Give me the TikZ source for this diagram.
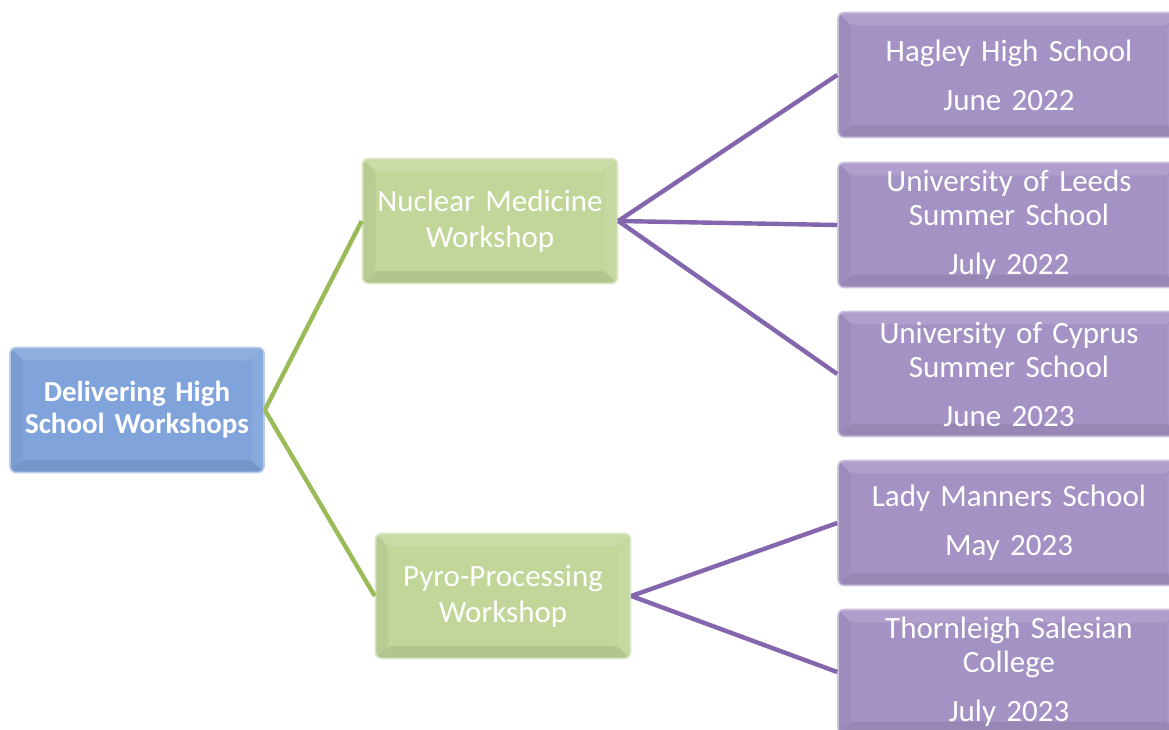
\documentclass[tikz,border=0pt]{standalone}
\usepackage{fontspec}
\setmainfont{Carlito}[WordSpace=0.85]
\definecolor{rootfill}{HTML}{7FA3DA}
\definecolor{greenfill}{HTML}{C2D69A}
\definecolor{purplefill}{HTML}{A592C5}
\definecolor{greenline}{HTML}{9BBB59}
\definecolor{purpleline}{HTML}{8466AE}
\tikzset{
  bevelbox/.style={rounded corners=6pt, inner sep=0pt, text=white, align=center,
    fill=#1, draw=#1!55!white, line width=1.6pt,
    path picture={
      \fill[#1!88!white] (path picture bounding box.north west) -- (path picture bounding box.north east)
        -- ([xshift=-13pt,yshift=-13pt]path picture bounding box.north east)
        -- ([xshift=13pt,yshift=-13pt]path picture bounding box.north west) -- cycle;
      \fill[#1!95!black] (path picture bounding box.north west) -- (path picture bounding box.south west)
        -- ([xshift=13pt,yshift=13pt]path picture bounding box.south west)
        -- ([xshift=13pt,yshift=-13pt]path picture bounding box.north west) -- cycle;
      \fill[#1!92!black] (path picture bounding box.south west) -- (path picture bounding box.south east)
        -- ([xshift=-13pt,yshift=13pt]path picture bounding box.south east)
        -- ([xshift=13pt,yshift=13pt]path picture bounding box.south west) -- cycle;
      \fill[#1!94!white] (path picture bounding box.north east) -- (path picture bounding box.south east)
        -- ([xshift=-13pt,yshift=13pt]path picture bounding box.south east)
        -- ([xshift=-13pt,yshift=-13pt]path picture bounding box.north east) -- cycle;
      \fill[#1] ([xshift=13pt,yshift=-13pt]path picture bounding box.north west) rectangle
        ([xshift=-13pt,yshift=13pt]path picture bounding box.south east);
    }},
  rootbox/.style={bevelbox=rootfill, minimum width=254pt, minimum height=125pt, text width=250pt,
    font=\fontsize{29}{32}\selectfont\bfseries},
  greenbox/.style={bevelbox=greenfill, minimum width=255pt, minimum height=125pt, text width=252pt,
    font=\fontsize{31}{36}\selectfont},
  purplebox/.style={bevelbox=purplefill, minimum width=342pt, minimum height=125pt, text width=338pt,
    font=\fontsize{31}{34}\selectfont},
  greenlink/.style={draw=greenline, line width=4.4pt},
  purplelink/.style={draw=purpleline, line width=4.4pt}
}
\begin{document}
\begin{tikzpicture}[x=1pt,y=-1pt]
\clip (0,0) rectangle (1169,729);
\fill[white] (0,0) rectangle (1169,729);
\node[rootbox] (root) at (137,410) {Delivering High\\School Workshops};
\node[greenbox] (nuc) at (490,221) {Nuclear Medicine\\Workshop};
\node[greenbox] (pyro) at (503,596) {Pyro-Processing\\Workshop};
\node[purplebox] (hag) at (1009,75) {Hagley High School\\[15pt]June 2022};
\node[purplebox] (leeds) at (1009,225) {University of Leeds\\Summer School\\[15pt]July 2022};
\node[purplebox] (cyp) at (1009,374) {University of Cyprus\\Summer School\\[15pt]June 2023};
\node[purplebox] (lady) at (1009,523) {Lady Manners School\\[15pt]May 2023};
\node[purplebox] (thorn) at (1009,672) {Thornleigh Salesian\\College\\[15pt]July 2023};
\draw[greenlink] (root.east) -- (nuc.west);
\draw[greenlink] (root.east) -- (pyro.west);
\draw[purplelink] (nuc.east) -- (hag.west);
\draw[purplelink] (nuc.east) -- (leeds.west);
\draw[purplelink] (nuc.east) -- (cyp.west);
\draw[purplelink] (pyro.east) -- (lady.west);
\draw[purplelink] (pyro.east) -- (thorn.west);
\end{tikzpicture}
\end{document}
